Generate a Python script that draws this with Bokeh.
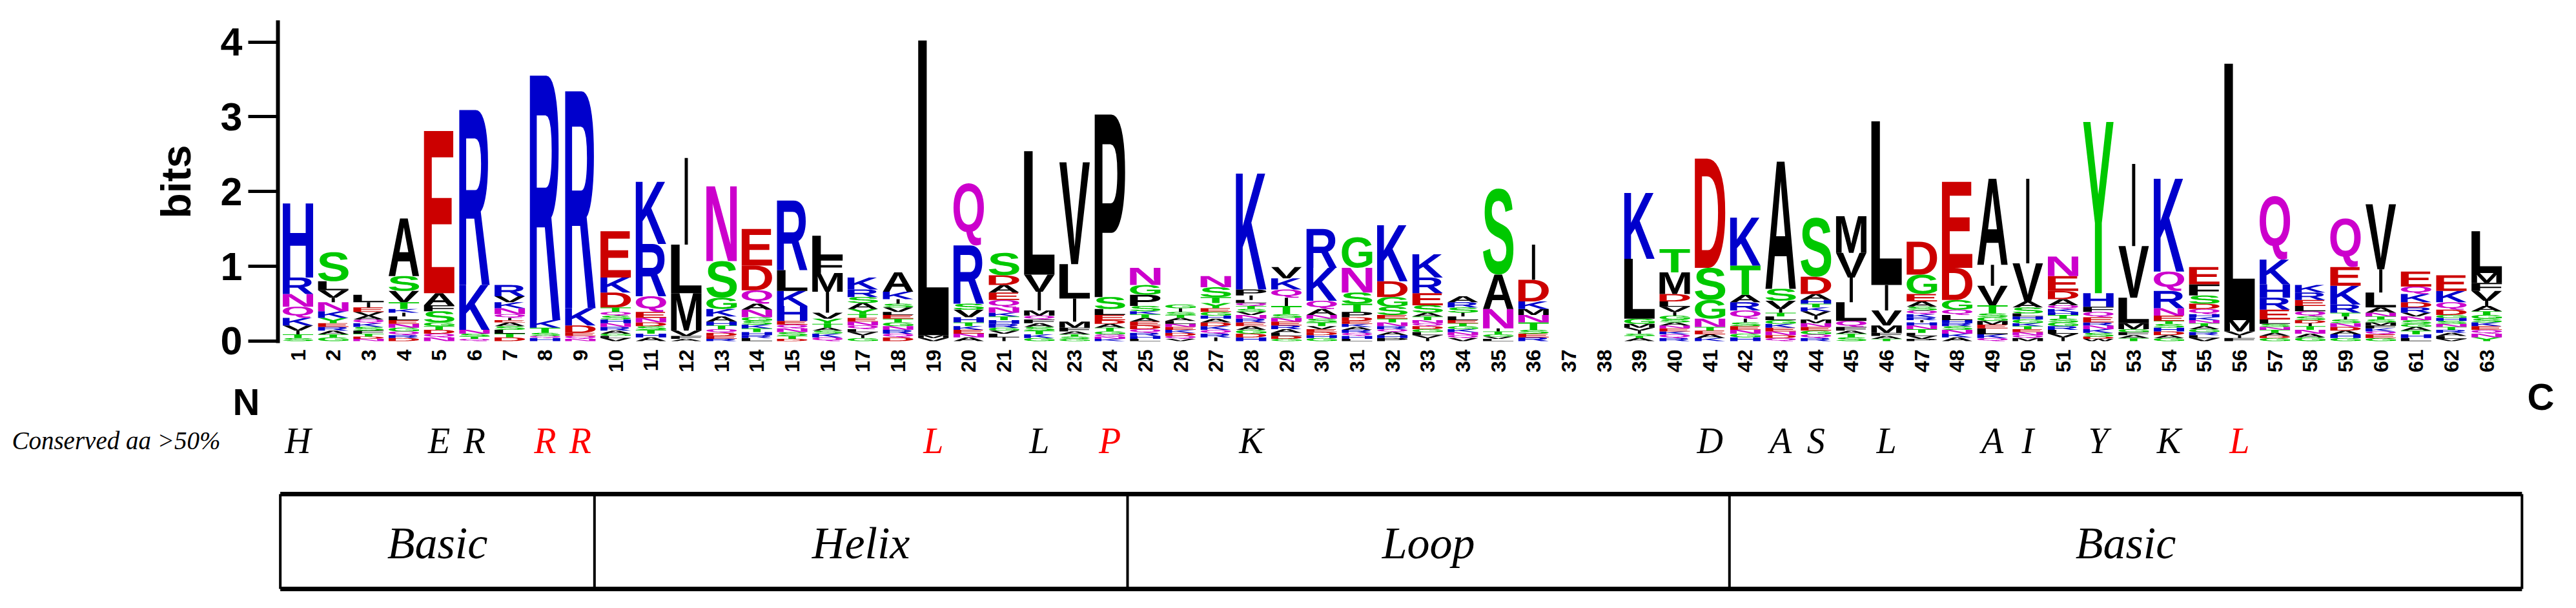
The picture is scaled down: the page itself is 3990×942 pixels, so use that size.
import glob
import math
import struct

from bokeh.core.properties import value
from bokeh.embed import file_html
from bokeh.layouts import column
from bokeh.models import ColumnDataSource, FixedTicker, LinearAxis, Range1d
from bokeh.plotting import figure
from bokeh.resources import INLINE

# ---------------------------------------------------------------- data
# Each entry: one logo column, letters listed from top of stack to bottom,
# followed by their height in bits.
BASIC_N = [  # positions 1-9
    "H .99 R .22 N .17 Q .15 K .10 V .07 I .05 T .05 S .04",
    "S .39 L .12 V .10 I .06 N .12 K .09 Y .07 E .05 R .05 A .05 T .04 G .05",
    "L .10 I .07 E .06 V .05 A .05 Q .05 K .05 S .05 F .04 T .04 D .03 N .03",
    "A .77 S .20 V .15 T .09 K .05 I .05 L .05 E .05 N .05 G .05 Q .05 R .04 D .04",
    "E 2.17 A .16 F .08 S .15 G .05 T .05 D .05 Q .05 N .05",
    "R 2.34 K .60 N .05 S .04 T .03 Q .03",
    "R .15 V .08 K .08 N .08 Q .05 I .03 E .03 A .05 S .05 L .05 T .05 D .05",
    "R 3.27 K .10 T .07 S .04 Q .03 H .04",
    "R 2.90 K .23 D .10 E .04 Q .04 N .03",
]
HELIX = [  # positions 10-24
    "E .62 K .20 D .20 T .06 Q .05 S .05 H .05 N .05 R .05 A .04 G .03 L .03 V .04",
    "K .83 R .70 Q .21 E .08 N .06 D .05 S .05 T .05 H .05 A .05",
    "I 1.16 L .65 M .50 V .07 F .04 A .03",
    "N 1.00 S .49 G .15 K .10 A .07 H .05 T .05 Q .05 D .04 E .04 R .03",
    "E .49 D .33 Q .18 A .08 N .10 G .05 S .05 K .05 T .05 H .04 R .04 L .04",
    "R .93 L .28 K .20 H .20 E .05 Q .05 N .05 S .05 T .04 D .03",
    "L .30 F .20 M .25 I .28 V .08 Y .07 T .05 A .04 S .04 K .05 Q .05",
    "K .16 R .10 S .08 A .08 Y .07 T .05 E .05 N .05 Q .05 L .04 V .04 I .04 G .04",
    "A .26 K .10 I .06 S .05 V .06 L .04 E .05 T .05 G .05 N .05 R .05 Q .05 D .05",
    "L 3.94 M .04 V .04",
    "Q .83 R .78 S .08 V .10 H .07 T .05 K .05 E .05 N .05 A .05",
    "S .30 D .13 A .10 E .10 Q .10 N .07 K .05 T .05 H .05 R .05 G .04 V .04 L .05 I .05",
    "L 1.65 V .23 I .25 M .07 Q .05 F .05 A .05 S .05 T .05 K .05 G .04",
    "V 1.36 L .46 I .31 M .08 F .05 A .04 T .03 S .03 G .03",
    "P 2.44 S .16 L .08 E .07 D .05 A .05 T .05 G .04 Q .03 N .03 K .03",
]
LOOP = [  # positions 25-41
    "N .23 G .13 P .15 S .07 K .04 T .05 A .05 E .05 D .05 Q .05 R .04 H .04 L .03",
    "G .05 I .05 S .04 T .04 A .04 L .04 N .04 E .04 K .04 D .04 Q .04 V .03",
    "N .15 S .13 T .08 Y .07 E .05 G .05 H .04 A .05 D .05 K .05 Q .05 R .05 I .05",
    "K 1.55 P .08 I .06 L .04 Q .04 T .04 S .04 V .04 N .05 R .05 E .05 A .05 G .05 D .05 H .05",
    "V .15 K .15 Q .11 I .11 T .11 S .05 N .05 E .05 R .05 A .05 L .04 D .04 G .03",
    "R .52 K .44 Q .11 A .08 N .05 S .05 T .05 V .04 E .04 D .04 H .04 G .04",
    "G .41 N .33 S .15 T .11 P .07 D .05 E .04 K .04 A .04 R .04 Q .04 H .04 L .03",
    "K .75 D .21 G .13 S .11 E .05 T .05 N .05 R .04 Q .04 A .04 H .04 P .04",
    "K .31 R .21 E .16 S .10 A .05 T .05 N .04 Q .04 D .04 G .04 L .04 V .04 I .04",
    "A .08 R .07 S .07 I .05 L .05 E .04 T .04 G .04 K .04 N .04 Q .04 V .04",
    "S 1.15 A .46 N .26 I .04 T .04 G .03 V .03 L .03",
    "I .47 D .29 K .10 M .08 N .10 T .10 S .05 E .05 R .05",
    "",
    "",
    "K .88 L .80 G .07 M .05 V .04 I .04 S .03 T .03 A .04",
    "T .31 M .29 D .10 L .07 V .07 I .05 G .05 S .04 A .04 N .04 E .04 K .04 Q .05 R .04",
    "D 1.46 S .43 G .25 N .11 T .05 E .05 A .05 K .04",
]
BASIC_C = [  # positions 42-63
    "K .64 T .39 A .10 R .11 Q .11 I .05 S .05 E .05 N .05 G .05 H .05",
    "A 1.70 S .16 V .11 I .05 T .05 L .05 G .05 K .05 E .05 N .05 D .04 Q .04",
    "S .79 D .23 A .08 H .05 T .05 K .05 V .06 I .05 M .05 N .05 E .05 G .05 Q .05 R .04",
    "M .49 V .33 I .33 L .25 Q .08 F .05 A .04 T .05 S .05",
    "L 2.19 I .34 V .20 M .10 F .04 A .04 T .03",
    "D .44 G .26 E .10 A .07 S .05 Q .05 K .04 R .04 I .03 H .04 N .05 T .05 L .04 V .04 P .03",
    "E 1.15 D .43 G .13 Q .07 L .07 H .04 R .04 S .05 N .05 K .05 A .05",
    "A 1.15 I .28 V .26 T .11 S .05 G .05 M .05 E .05 L .08 K .05 Q .04",
    "I 1.13 V .51 A .08 S .08 L .04 H .04 G .05 K .04 T .04 E .04 N .04 Q .04 M .04",
    "N .26 E .20 D .11 A .08 Q .05 K .04 H .04 T .05 S .05 G .05 R .05 L .05 V .05 I .05",
    "Y 2.29 H .18 F .07 Q .07 E .07 R .04 N .05 K .05 S .05 D .03 W .03",
    "I 1.10 V .69 L .34 M .08 G .04 F .04 A .04 T .04",
    "K 1.24 Q .26 R .23 N .10 E .07 T .04 S .05 H .05 D .05 A .04 G .04",
    "E .23 F .15 S .11 D .07 Q .07 H .04 K .04 N .04 T .04 A .04 G .04 R .04 L .04 V .04",
    "L 3.43 M .15 V .05 I .04 F .04",
    "Q .85 K .33 H .18 R .16 E .13 L .06 S .04 N .04 T .04 A .04 D .03 G .04",
    "K .10 R .10 E .08 L .07 Q .07 S .05 D .04 I .04 T .05 N .05 A .05 G .05",
    "Q .65 E .25 K .25 R .11 T .05 I .04 S .05 N .05 D .05 A .05 H .05 G .04",
    "V .87 I .31 L .20 A .07 N .05 T .04 S .04 M .04 F .04 K .04 Q .04 E .05 G .04",
    "E .20 Q .10 K .11 D .07 R .07 V .05 N .05 S .05 G .04 A .05 T .05 H .05 L .04",
    "E .21 K .15 Q .10 D .07 G .04 H .04 S .04 N .04 T .04 R .04 A .04 L .04 V .03",
    "L .56 M .13 F .11 V .13 I .07 A .07 T .05 G .05 S .05 K .05 E .05 Q .05 N .05 Y .05",
]
STACKS = BASIC_N + HELIX + LOOP + BASIC_C
POSITIONS = list(range(1, len(STACKS) + 1))
Y_TICKS = [0, 1, 2, 3, 4]

CONS_POS = [1, 5, 6, 8, 9, 19, 22, 24, 28, 41, 43, 44, 46, 49, 50, 52, 54, 56]
CONS_AA = ["H", "E", "R", "R", "R", "L", "L", "P", "K", "D", "A", "S", "L", "A", "I", "Y", "K", "L"]
CONS_HIGHLIGHT = [0, 0, 0, 1, 1, 1, 0, 1, 0, 0, 0, 0, 0, 0, 0, 0, 0, 1]
CONS_LABEL = "Conserved aa >50%"

REGION_NAMES = ["Basic", "Helix", "Loop", "Basic"]
REGION_EDGES = [0.5, 9.4, 24.5, 41.55, 64.0]

# ---------------------------------------------------------------- style
AA_COLORS = {}
for _aa in "GSTYC":
    AA_COLORS[_aa] = "#00C800"
for _aa in "NQ":
    AA_COLORS[_aa] = "#CC00CC"
for _aa in "KRH":
    AA_COLORS[_aa] = "#0000CC"
for _aa in "DE":
    AA_COLORS[_aa] = "#CC0000"

PAGE_W, TOP_H, BOT_H = 3988, 580, 360
POS1_PX, PX_PER_POS = 461.0, 54.68   # pixel of position 1, px per column
AXIS_PX = 430                        # pixel of the y axis
COL_W, I_W = 0.86, 0.09


def pos_of(px):
    return 1 + (px - POS1_PX) / PX_PER_POS


# ---------------------------------------------------------------- glyph outlines
def _u16(d, o):
    return struct.unpack_from(">H", d, o)[0]


def _i16(d, o):
    return struct.unpack_from(">h", d, o)[0]


def _u32(d, o):
    return struct.unpack_from(">I", d, o)[0]


def _flatten(pts, steps=5):
    seq = []
    n = len(pts)
    for i in range(n):
        x, y, on = pts[i]
        seq.append((x, y, on))
        nx, ny, non = pts[(i + 1) % n]
        if not on and not non:
            seq.append(((x + nx) / 2.0, (y + ny) / 2.0, 1))
    k = 0
    while k < len(seq) and not seq[k][2]:
        k += 1
    if k == len(seq):
        return [(x, y) for x, y, _ in seq]
    seq = seq[k:] + seq[:k]
    m = len(seq)
    out = [(seq[0][0], seq[0][1])]
    i = 1
    while i <= m:
        q = seq[i % m]
        if q[2]:
            out.append((q[0], q[1]))
            i += 1
        else:
            x0, y0 = out[-1]
            x2, y2, _ = seq[(i + 1) % m]
            for s in range(1, steps + 1):
                t = s / steps
                a, b, c = (1 - t) ** 2, 2 * (1 - t) * t, t * t
                out.append((a * x0 + b * q[0] + c * x2, a * y0 + b * q[1] + c * y2))
            i += 2
    return out


class TTFont:
    def __init__(self, path):
        d = open(path, "rb").read()
        self.d = d
        n = _u16(d, 4)
        self.tab = {}
        for i in range(n):
            rec = 12 + 16 * i
            self.tab[d[rec:rec + 4].decode("latin-1")] = _u32(d, rec + 8)
        locfmt = _i16(d, self.tab["head"] + 50)
        ng = _u16(d, self.tab["maxp"] + 4)
        lo = self.tab["loca"]
        if locfmt == 0:
            self.loca = [2 * _u16(d, lo + 2 * i) for i in range(ng + 1)]
        else:
            self.loca = [_u32(d, lo + 4 * i) for i in range(ng + 1)]
        c = self.tab["cmap"]
        self.sub = None
        for i in range(_u16(d, c + 2)):
            pid, eid = _u16(d, c + 4 + 8 * i), _u16(d, c + 6 + 8 * i)
            off = _u32(d, c + 8 + 8 * i)
            if _u16(d, c + off) == 4 and (pid == 0 or (pid == 3 and eid == 1)):
                self.sub = c + off
                break

    def gid(self, ch):
        d, o, code = self.d, self.sub, ord(ch)
        segx2 = _u16(d, o + 6)
        ends_o = o + 14
        starts_o = ends_o + segx2 + 2
        delta_o = starts_o + segx2
        ro_o = delta_o + segx2
        for k in range(segx2 // 2):
            if code <= _u16(d, ends_o + 2 * k):
                start = _u16(d, starts_o + 2 * k)
                if code < start:
                    return 0
                delta = _i16(d, delta_o + 2 * k)
                ro = _u16(d, ro_o + 2 * k)
                if ro == 0:
                    return (code + delta) & 0xFFFF
                g = _u16(d, ro_o + 2 * k + ro + 2 * (code - start))
                return (g + delta) & 0xFFFF if g else 0
        return 0

    def contours(self, g, dx=0, dy=0):
        d = self.d
        if self.loca[g + 1] == self.loca[g]:
            return []
        start = self.tab["glyf"] + self.loca[g]
        nc = _i16(d, start)
        if nc < 0:
            out, o = [], start + 10
            while True:
                fl, sg = _u16(d, o), _u16(d, o + 2)
                o += 4
                if fl & 1:
                    a1, a2 = _i16(d, o), _i16(d, o + 2)
                    o += 4
                else:
                    a1, a2 = struct.unpack_from(">bb", d, o)
                    o += 2
                if fl & 8:
                    o += 2
                elif fl & 0x40:
                    o += 4
                elif fl & 0x80:
                    o += 8
                ox, oy = (a1, a2) if fl & 2 else (0, 0)
                out += self.contours(sg, dx + ox, dy + oy)
                if not fl & 0x20:
                    break
            return out
        ends = [_u16(d, start + 10 + 2 * i) for i in range(nc)]
        p = start + 10 + 2 * nc
        p += 2 + _u16(d, p)
        npts = ends[-1] + 1 if nc else 0
        flags = []
        while len(flags) < npts:
            f = d[p]
            p += 1
            flags.append(f)
            if f & 8:
                r = d[p]
                p += 1
                flags.extend([f] * r)
        xs, v = [], 0
        for f in flags:
            if f & 2:
                b = d[p]
                p += 1
                v += b if f & 16 else -b
            elif not f & 16:
                v += _i16(d, p)
                p += 2
            xs.append(v + dx)
        ys, v = [], 0
        for f in flags:
            if f & 4:
                b = d[p]
                p += 1
                v += b if f & 32 else -b
            elif not f & 32:
                v += _i16(d, p)
                p += 2
            ys.append(v + dy)
        res, s = [], 0
        for e in ends:
            res.append(_flatten([(xs[i], ys[i], flags[i] & 1) for i in range(s, e + 1)]))
            s = e + 1
        return res


def load_font():
    pats = ["/usr/share/fonts/**/LiberationSans-Bold.ttf",
            "/usr/share/fonts/**/DejaVuSans-Bold.ttf",
            "/usr/**/LiberationSans-Bold.ttf",
            "/usr/share/fonts/**/*Bold*.ttf"]
    for pat in pats:
        for path in glob.glob(pat, recursive=True):
            try:
                f = TTFont(path)
                if f.sub is not None and f.contours(f.gid("R")):
                    return f
            except Exception:
                pass
    return None


FONT = load_font()
_SHAPES = {}


def shape(ch):
    """Letter outline normalised to its ink box [0,1]x[0,1]."""
    if ch in _SHAPES:
        return _SHAPES[ch]
    rings = []
    if FONT is not None:
        try:
            rings = FONT.contours(FONT.gid(ch))
        except Exception:
            rings = []
    if not rings:
        rings = [[(0, 0), (1, 0), (1, 1), (0, 1)]]
    allx = [x for r in rings for x, _ in r]
    ally = [y for r in rings for _, y in r]
    x0, x1, y0, y1 = min(allx), max(allx), min(ally), max(ally)
    norm = [[((x - x0) / (x1 - x0), (y - y0) / (y1 - y0)) for x, y in r] for r in rings]
    _SHAPES[ch] = norm
    return norm


# ---------------------------------------------------------------- logo glyphs
xs, ys, cols = [], [], []
for pos, stack in zip(POSITIONS, STACKS):
    toks = stack.split()
    pairs = [(toks[i], float(toks[i + 1])) for i in range(0, len(toks), 2)]
    base = 0.0
    for aa, h in reversed(pairs):
        w = I_W if aa == "I" else COL_W
        left = pos - w / 2.0
        rx, ry = [], []
        for ring in shape(aa):
            rx.append([left + u * w for u, _ in ring])
            ry.append([base + v * h for _, v in ring])
        xs.append([rx])
        ys.append([ry])
        cols.append(AA_COLORS.get(aa, "#000000"))
        base += h

src = ColumnDataSource(dict(xs=xs, ys=ys, color=cols))

x_start = pos_of(AXIS_PX)
x_end = pos_of(PAGE_W)
p = figure(width=PAGE_W, height=TOP_H,
           x_range=Range1d(x_start, x_end), y_range=Range1d(-0.026, 4.29),
           output_backend="svg", toolbar_location=None,
           min_border_left=AXIS_PX, min_border_right=0,
           min_border_top=31, min_border_bottom=44,
           outline_line_color=None, background_fill_color="white",
           border_fill_color="white")
p.multi_polygons(xs="xs", ys="ys", source=src, fill_color="color", line_color=None)
p.grid.visible = False

ya = p.yaxis[0]
ya.ticker = FixedTicker(ticks=Y_TICKS)
ya.axis_label = "bits"
ya.axis_label_text_font = "Liberation Sans"
ya.axis_label_text_font_style = "bold"
ya.axis_label_text_font_size = "64px"
ya.axis_label_text_color = "black"
ya.axis_label_standoff = 30
ya.major_label_text_font = "Liberation Sans"
ya.major_label_text_font_style = "bold"
ya.major_label_text_font_size = "61px"
ya.major_label_text_color = "black"
ya.major_label_standoff = 9
ya.major_tick_out = 46
ya.major_tick_in = 0
ya.major_tick_line_width = 5
ya.major_tick_line_color = "black"
ya.minor_tick_line_color = None
ya.axis_line_width = 6
ya.axis_line_color = "black"

xa = p.xaxis[0]
xa.ticker = FixedTicker(ticks=POSITIONS)
xa.axis_line_color = None
xa.major_tick_line_color = None
xa.minor_tick_line_color = None
xa.major_label_orientation = math.pi / 2
xa.major_label_text_font = "Liberation Sans"
xa.major_label_text_font_style = "bold"
xa.major_label_text_font_size = "32px"
xa.major_label_text_color = "black"
xa.major_label_standoff = 4

# ---------------------------------------------------------------- lower panel
BOT_TOP = TOP_H          # pixel y of the panel top
Y_NC = BOT_TOP + 23      # N / C terminus row
Y_CONS = BOT_TOP + 102   # conserved residues row

q = figure(width=PAGE_W, height=BOT_H,
           x_range=Range1d(x_start, x_end),
           y_range=Range1d(BOT_TOP + BOT_H, BOT_TOP),
           output_backend="svg", toolbar_location=None,
           min_border_left=AXIS_PX, min_border_right=0,
           min_border_top=0, min_border_bottom=0,
           outline_line_color=None, background_fill_color="white",
           border_fill_color="white")
q.xaxis.visible = False
q.grid.visible = False

# "N" terminus mark: a left axis carrying one label
na = q.yaxis[0]
na.ticker = FixedTicker(ticks=[Y_NC])
na.major_label_overrides = {Y_NC: "N"}
na.axis_line_color = None
na.major_tick_line_color = None
na.minor_tick_line_color = None
na.major_tick_out = 0
na.major_tick_in = 0
na.major_label_standoff = 28
na.major_label_text_font = "Liberation Sans"
na.major_label_text_font_style = "bold"
na.major_label_text_font_size = "58px"
na.major_label_text_color = "black"

# "Conserved aa >50%" row title: a second left axis
ca = LinearAxis(ticker=FixedTicker(ticks=[Y_CONS]),
                major_label_overrides={Y_CONS: CONS_LABEL},
                axis_line_color=None, major_tick_line_color=None,
                minor_tick_line_color=None, major_tick_out=0, major_tick_in=0,
                major_label_standoff=16,
                major_label_text_font="Liberation Serif",
                major_label_text_font_style="italic",
                major_label_text_font_size="39px",
                major_label_text_color="black")
q.add_layout(ca, "left")

# "C" terminus mark
q.text(x=[pos_of(3935)], y=[BOT_TOP + 1], text=["C"],
       text_font=value("Liberation Sans"), text_font_style="bold",
       text_font_size="58px", text_align="center", text_baseline="top",
       text_color="black")

# conserved residues
q.text(x=CONS_POS, y=[Y_CONS] * len(CONS_POS), text=CONS_AA,
       text_font=value("Liberation Serif"), text_font_style="italic",
       text_font_size="56px", text_align="center", text_baseline="middle",
       text_color=["#FF0000" if h else "black" for h in CONS_HIGHLIGHT])

# domain boxes
box_top, box_bot = BOT_TOP + 185, BOT_TOP + 332
q.segment(x0=[REGION_EDGES[0]] * 2, x1=[REGION_EDGES[-1]] * 2,
          y0=[box_top, box_bot], y1=[box_top, box_bot],
          line_color="black", line_width=7)
q.segment(x0=REGION_EDGES, x1=REGION_EDGES,
          y0=[box_top] * len(REGION_EDGES), y1=[box_bot] * len(REGION_EDGES),
          line_color="black", line_width=4)
mids = [(a + b) / 2.0 for a, b in zip(REGION_EDGES[:-1], REGION_EDGES[1:])]
q.text(x=mids, y=[(box_top + box_bot) / 2.0 + 2] * len(mids), text=REGION_NAMES,
       text_font=value("Liberation Serif"), text_font_style="italic",
       text_font_size="70px", text_align="center", text_baseline="middle",
       text_color="black")

layout = column(p, q, spacing=0)
open("out.html", "w").write(file_html(layout, INLINE))
